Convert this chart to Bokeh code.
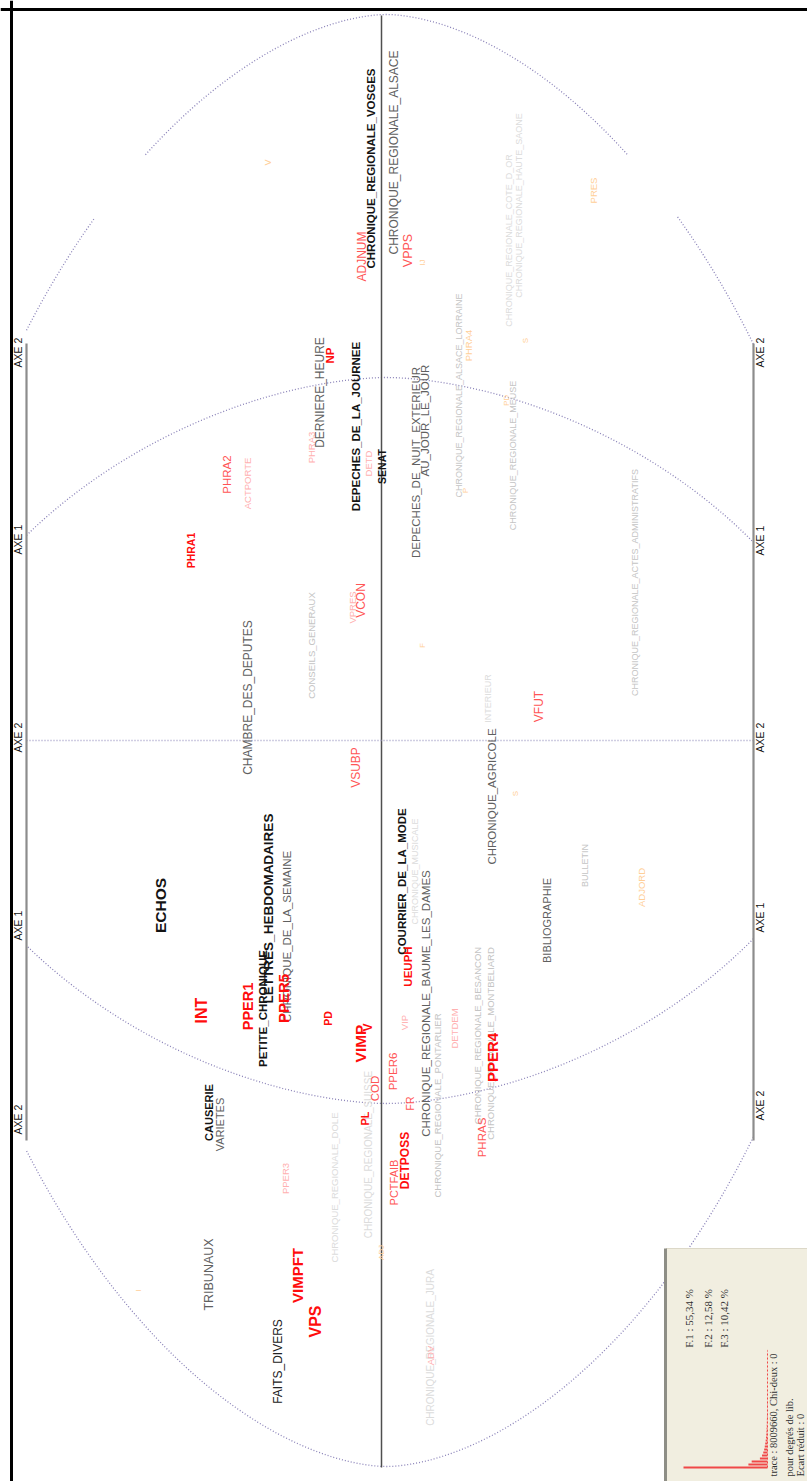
import numpy as np
from bokeh.plotting import figure
from bokeh.models import ColumnDataSource, Span, Range1d
from bokeh.embed import file_html
from bokeh.resources import INLINE
from bokeh.core.properties import value, field

# ---------------- data (factor scores) ----------------
# F2 : horizontal in the rotated map (positive to the left), F1 : vertical (positive up)
LABELS = [
    "CHRONIQUE_REGIONALE_VOSGES", "DEPECHES_DE_LA_JOURNEE", "SENAT", "ECHOS",
    "LETTRES_HEBDOMADAIRES", "PETITE_CHRONIQUE", "COURRIER_DE_LA_MODE", "CAUSERIE",
    "FAITS_DIVERS", "CHRONIQUE_REGIONALE_ALSACE", "DERNIERE_HEURE",
    "DEPECHES_DE_NUIT_EXTERIEUR", "AU_JOUR_LE_JOUR", "CHAMBRE_DES_DEPUTES",
    "CHRONIQUE_DE_LA_SEMAINE", "CHRONIQUE_AGRICOLE", "BIBLIOGRAPHIE",
    "CHRONIQUE_REGIONALE_BAUME_LES_DAMES", "VARIETES", "TRIBUNAUX",
    "CHRONIQUE_REGIONALE_ALSACE_LORRAINE", "CHRONIQUE_REGIONALE_COTE_D_OR",
    "CHRONIQUE_REGIONALE_HAUTE_SAONE", "CHRONIQUE_REGIONALE_MEUSE",
    "CHRONIQUE_REGIONALE_ACTES_ADMINISTRATIFS", "CONSEILS_GENERAUX", "INTERIEUR",
    "CHRONIQUE_MUSICALE", "BULLETIN", "CHRONIQUE_REGIONALE_PONTARLIER",
    "CHRONIQUE_REGIONALE_BESANCON", "CHRONIQUE_REGIONALE_MONTBELIARD",
    "CHRONIQUE_REGIONALE_SUISSE", "CHRONIQUE_REGIONALE_DOLE", "CHRONIQUE_REGIONALE_JURA",
    "INT", "PPER1", "PPER5", "VIMP", "PPER4", "VIMPFT", "VPS", "DETPOSS", "NP", "PHRA1",
    "PL", "UEUPH", "PD", "V",
    "ADJNUM", "VPPS", "PHRA2", "VCON", "VSUBP", "VFUT", "PPER6", "COD", "FR", "PCTFAIB", "PHRAS",
    "PHRA3", "DETD", "ACTPORTE", "VPRES", "VIP", "DETDEM", "PPER3", "ADV",
    "V", "IJ", "PRES", "S", "PHRA4", "F", "S", "ADJORD", "I", "ADJ", "P", "PD",
]
F2 = [
    0.11, 0.26, 0.00, 2.21, 1.13, 1.19, -0.20, 1.73, 1.04, -0.12, 0.62, -0.34, -0.43, 1.34,
    0.95, -1.10, -1.65, -0.44, 1.62, 1.73,
    -0.77, -1.27, -1.37, -1.31, -2.53, 0.70, -1.06, -0.33, -2.03, -0.56, -0.96, -1.09,
    0.13, 0.47, -0.49,
    1.80, 1.34, 0.98, 0.21, -1.11, 0.84, 0.66, -0.23, 0.52, 1.91, 0.17, -0.26, 0.54, 0.14,
    0.20, -0.26, 1.55, 0.21, 0.26, -1.57, -0.11, 0.07, -0.28, -0.12, -1.00,
    0.70, 0.13, 1.34, 0.29, -0.23, -0.73, 0.96, -0.49,
    1.14, -0.41, -2.12, -1.44, -0.87, -0.41, -1.34, -2.60, 2.43, 0.00, -0.84, -1.25,
]
F1 = [
    5.72, 3.14, 2.74, -1.65, -1.68, -2.68, -1.41, -3.72, -6.21, 5.88, 3.48, 2.78, 3.20, 0.43,
    -1.96, -0.56, -1.80, -2.63, -3.84, -5.34,
    3.45, 5.00, 5.35, 2.85, 1.58, 0.95, 0.42, -1.31, -1.25, -3.65, -2.95, -3.03,
    -4.14, -4.47, -6.07,
    -2.70, -2.66, -2.58, -3.03, -3.17, -5.35, -5.81, -4.20, 3.85, 1.90, -3.78, -2.26, -2.78, -2.87,
    4.84, 4.90, 2.66, 1.40, -0.27, 0.34, -3.31, -3.48, -3.63, -4.42, -3.97,
    2.93, 2.77, 2.57, 1.33, -2.82, -2.88, -4.38, -6.15,
    5.78, 4.78, 5.50, 4.00, 3.95, 0.95, -0.53, -1.47, -5.50, -5.12, 2.50, 3.40,
]
AXIS_TICK_TEXT = ["AXE 2", "AXE 1", "AXE 2", "AXE 1", "AXE 2"]
AXIS_TICK_F1_LEFT = [3.88, 2.01, 0.03, -1.85, -3.79]
AXIS_TICK_F1_RIGHT = [3.88, 2.00, 0.03, -1.77, -3.65]
EIGEN = [55.34, 12.58, 10.42, 5.0, 3.6, 2.8, 2.2, 1.8, 1.5, 1.2, 1.0, 0.8, 0.7,
         0.6, 0.5, 0.45, 0.4, 0.35, 0.3, 0.3, 0.25, 0.25, 0.2, 0.2, 0.2, 0.15, 0.15,
         0.15, 0.15, 0.1, 0.1, 0.1, 0.1, 0.1, 0.1, 0.1, 0.1, 0.1, 0.1, 0.1]
INFO_PCT = ["F.1 : 55,34 %", "F.2 : 12,58 %", "F.3 : 10,42 %"]
INFO_STATS = ["trace : 8009660, Chi-deux : 0", "pour degrés de lib.", "Ecart réduit : 0"]

# ---------------- styles (kept apart from the data) ----------------
CLASS = (["K1"] * 8 + ["K2"] + ["G1"] * 11 +
         ["G2", "G3", "G3", "G2", "G2", "G2", "G3", "G3", "G2", "G2", "G2", "G2", "G3", "G3", "G3"] +
         ["R1"] * 14 +
         ["R2"] * 11 +
         ["R3"] * 8 +
         ["O1"] * 12)
SIZES = [11.5, 11.5, 10.5, 15.5, 13.5, 11.5, 11.5, 11, 12,
         12, 12, 11.5, 11.5, 12, 11.5, 11.5, 11, 11.5, 11, 12.5,
         9, 9, 9, 9, 9, 9.5, 9, 9, 9, 9.5, 9.5, 9.5, 10, 9.5, 10,
         16, 14.5, 15, 15.5, 15, 15, 16, 12, 11.5, 10.5, 11, 11.5, 10.5, 12,
         12, 12.5, 11.5, 12, 12, 12, 11.5, 11.5, 10.5, 11, 11.5,
         9.5, 9.5, 9.5, 9.5, 9.5, 9.5, 9.5, 9.5,
         9, 8, 9.5, 8, 9.5, 8, 8, 9.5, 8, 8, 8, 8]
PALETTE = {
    "K1": ("#141414", "bold"), "K2": ("#222222", "normal"),
    "G1": ("#606060", "normal"), "G2": ("#c4c4c4", "normal"), "G3": ("#dcdcdc", "normal"),
    "R1": ("#ff0d0d", "bold"), "R2": ("#ff5555", "normal"), "R3": ("#ffb0b0", "normal"),
    "O1": ("#ffcf98", "normal"),
}
DRAW_ORDER = ["G3", "G2", "O1", "R3", "G1", "K2", "K1", "R2", "R1"]

# layout of the rotated map, in factor units (1 unit = 100 px)
F2_LEFT, F2_RIGHT = 3.81, -4.26
F1_BOTTOM, F1_TOP = -7.41, 7.40
BAR_L, BAR_R = 3.55, -3.72          # side rulers
BAR_F1 = (3.97, -4.00)
LAB_L, LAB_R = 3.64, -3.78

p = figure(width=807, height=1481, x_range=Range1d(F2_LEFT, F2_RIGHT),
           y_range=Range1d(F1_BOTTOM, F1_TOP), x_axis_type=None, y_axis_type=None,
           toolbar_location=None, output_backend="svg", min_border=0,
           outline_line_color=None, background_fill_color="white")

# frame (left / top edges visible)
p.add_layout(Span(location=3.70, dimension="height", line_color="black", line_width=3))
p.add_layout(Span(location=7.31, dimension="width", line_color="black", line_width=3))

# superellipse "circles" (dotted), clipped by the side rulers
def ring(a, b, c2, pw, gap=None, n=2400):
    t = np.linspace(0, 2 * np.pi, n)
    ct, st = np.cos(t), np.sin(t)
    x = c2 + a * np.sign(ct) * np.abs(ct) ** (2 / pw)
    y = b * np.sign(st) * np.abs(st) ** (2 / pw)
    bad = (x > BAR_L) | (x < BAR_R)
    if gap is not None:
        bad |= (y > gap[0]) & (y < gap[1])
    x = x.copy(); y = y.copy()
    x[bad] = np.nan; y[bad] = np.nan
    return x, y

ox, oy = ring(4.68, 7.26, -0.05, 1.75, gap=(5.24, 5.85))
ix, iy = ring(4.68, 3.63, -0.05, 1.75)
for xx, yy in ((ox, oy), (ix, iy)):
    p.line(xx, yy, line_color="#8a82b8", line_width=1.3, line_dash="1 2")

# axes
p.line([0, 0], [7.25, -7.27], line_color="#4f4f4f", line_width=1.5)
p.line([BAR_L, BAR_R], [0, 0], line_color="#a29dc6", line_width=1.6, line_dash="1 2")
for bx in (BAR_L, BAR_R):
    p.line([bx, bx], list(BAR_F1), line_color="#8c8c8c", line_width=2.2)

# axis tick texts
for lx, ly in ((LAB_L, AXIS_TICK_F1_LEFT), (LAB_R, AXIS_TICK_F1_RIGHT)):
    p.text(x=[lx] * 5, y=ly, text=AXIS_TICK_TEXT, angle=np.pi / 2,
           text_align="center", text_baseline="middle", text_font=value("Liberation Sans"),
           text_font_size="10.5px", text_color="#111111")

# labels
for cls in DRAW_ORDER:
    idx = [i for i, c in enumerate(CLASS) if c == cls]
    col, style = PALETTE[cls]
    src = ColumnDataSource(dict(x=[F2[i] for i in idx], y=[F1[i] for i in idx],
                                t=[LABELS[i] for i in idx],
                                s=["%gpx" % SIZES[i] for i in idx]))
    p.text(x="x", y="y", text="t", source=src, angle=np.pi / 2, text_align="center",
           text_baseline="middle", text_font=value("Liberation Sans"),
           text_font_size=field("s"), text_color=col, text_font_style=style)

# info box (bottom right)
BOX_L, BOX_T = -2.84, -5.08
p.quad(left=[BOX_L], right=[-4.6], top=[BOX_T], bottom=[-7.6],
       fill_color="#f1eee0", line_color=None)
p.line([BOX_L - 0.005, -4.6], [BOX_T, BOX_T], line_color="#dcd8c8", line_width=1)
p.line([BOX_L, BOX_L], [BOX_T, -7.6], line_color="#8e8e86", line_width=3)

# eigenvalue histogram
base = -3.86
scale = 0.84 / 55.34
ys = [-7.27 + 0.03 * i for i in range(len(EIGEN))]
p.hbar(y=ys, height=0.02, left=[base] * len(EIGEN),
       right=[base + v * scale for v in EIGEN], fill_color="#f04848", line_color=None)
p.line([base, base], [ys[0], ys[-1]], line_color="#f04848", line_width=1, line_dash="2 2")

p.text(x=[-3.07, -3.26, -3.42], y=[-5.78] * 3, text=INFO_PCT, angle=np.pi / 2,
       text_align="center", text_baseline="middle", text_font=value("Liberation Serif"),
       text_font_size="11px", text_color="#303030")
p.text(x=[-3.92, -4.08, -4.19], y=[-7.36] * 3, text=INFO_STATS, angle=np.pi / 2,
       text_align="left", text_baseline="middle", text_font=value("Liberation Serif"),
       text_font_size="10.5px", text_color="#303030")

open("out.html", "w").write(file_html(p, INLINE))
